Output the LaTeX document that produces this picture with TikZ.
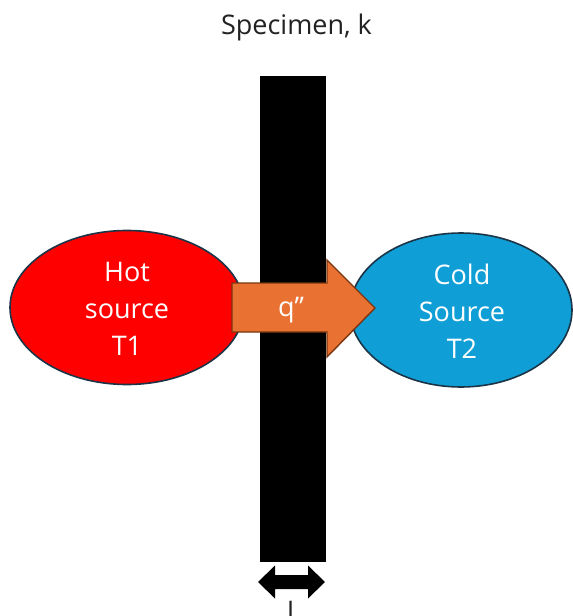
\documentclass[tikz,border=0pt]{standalone}
\usepackage{fontspec}
\setmainfont{Open Sans}
\usetikzlibrary{shapes.geometric}
\definecolor{hotred}{HTML}{FF0000}
\definecolor{coldblue}{HTML}{0F9ED5}
\definecolor{rim}{HTML}{1B3446}
\definecolor{qorange}{HTML}{E97132}
\definecolor{qrim}{HTML}{7A3510}
\definecolor{ink}{HTML}{222222}
\tikzset{
  source/.style={ellipse, draw=rim, line width=1.6pt, inner sep=0pt, text=white,
    align=center, font=\fontsize{27}{37}\selectfont},
  lbl/.style={text=ink, font=\fontsize{27}{32}\selectfont, inner sep=0pt},
}
\begin{document}
\begin{tikzpicture}[x=1pt,y=-1pt]
\useasboundingbox (0,0) rectangle (573,616);
% ellipses
\node[source, fill=hotred, minimum width=234, minimum height=154] (hot) at (127,307.5) {};
\node[source, fill=coldblue, minimum width=222, minimum height=154] (cold) at (461,310) {};
\node[text=white, align=center, font=\fontsize{27}{37}\selectfont, inner sep=0pt] (hottxt) at (127,309) {Hot\\source\\T1};
\node[text=white, align=center, font=\fontsize{27}{37}\selectfont, inner sep=0pt] (coldtxt) at (462,311.5) {Cold\\Source\\T2};
% specimen bar
\fill[black] (260,76) rectangle (326,562);
% heat flux arrow
\draw[fill=qorange, draw=qrim, line width=1.4pt, line join=miter]
  (232,283) -- (327,283) -- (327,260) -- (375,308) -- (327,357) -- (327,332) -- (232,332) -- cycle;
\node[text=white, font=\fontsize{27}{32}\selectfont, inner sep=0pt, anchor=base] (q) at (291,316) {q’’};
% title
\node[lbl, anchor=base] (title) at (296.5,34) {Specimen, k};
% thickness arrow
\fill[black] (258,582) -- (275,565.5) -- (275,575) -- (308,575) -- (308,565.5) -- (325,582)
  -- (308,598.5) -- (308,589) -- (275,589) -- (275,598.5) -- cycle;
\node[lbl, anchor=base] (L) at (294,620) {L};
\end{tikzpicture}
\end{document}
